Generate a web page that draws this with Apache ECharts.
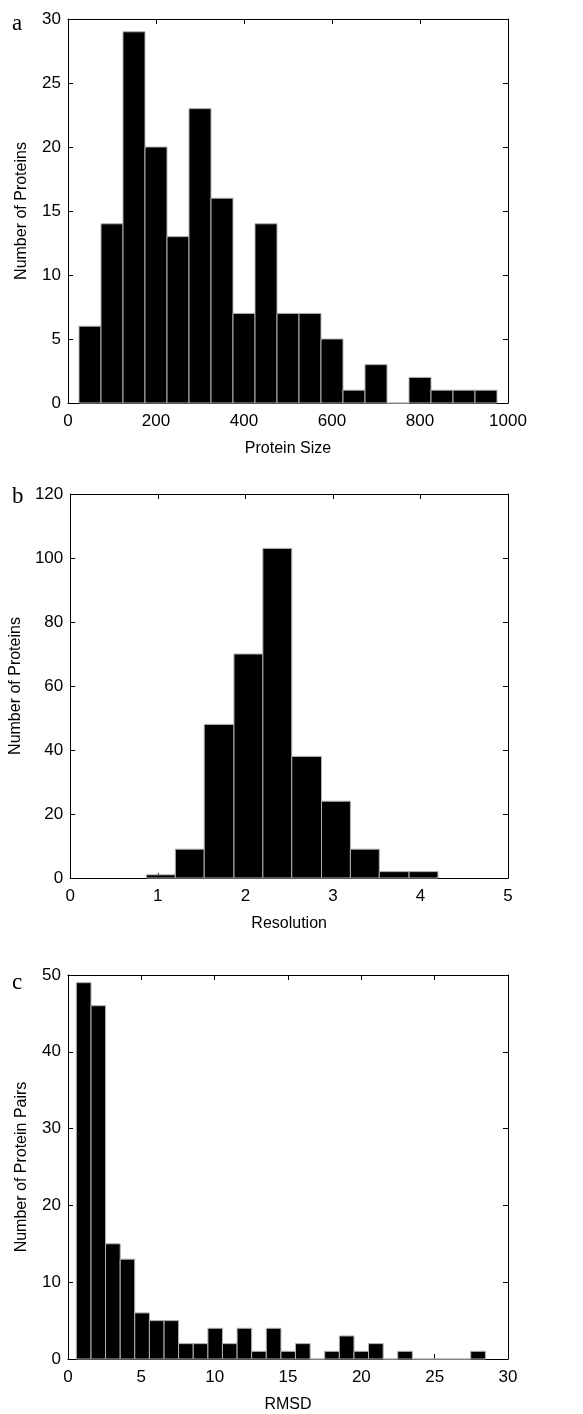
<!DOCTYPE html>
<html>
	<head>
		<meta charset="UTF-8">
		<title>histograms</title>
		<script src="https://cdn.jsdelivr.net/npm/echarts@6/dist/echarts.min.js"></script>
		<style>
			html, body {
				margin: 0;
				padding: 0;
				background: #fff;
			}
			#chart {
				width: 583px;
				height: 1414px;
			}
		</style>
	</head>
	<body>
		<div id="chart"></div>
		<script>
			// a: protein size
			var sizeEdges = [25, 75, 125, 175, 225, 275, 325, 375, 425, 475, 525, 575, 625, 675, 725, 775, 825, 875, 925, 975];
			var sizeCounts = [6, 14, 29, 20, 13, 23, 16, 7, 14, 7, 7, 5, 1, 3, 0, 2, 1, 1, 1];
			// b: resolution
			var resEdges = [0.87, 1.2, 1.53, 1.87, 2.2, 2.53, 2.87, 3.2, 3.53, 3.87, 4.2];
			var resCounts = [1, 9, 48, 70, 103, 38, 24, 9, 2, 2];
			// c: rmsd
			var rmsdEdges = [0.57, 1.57, 2.56, 3.56, 4.55, 5.55, 6.55, 7.54, 8.54, 9.54, 10.53, 11.53, 12.52, 13.52, 14.52,
				15.51, 16.51, 17.5, 18.5, 19.5, 20.49, 21.49, 22.48, 23.48, 24.48, 25.47, 26.47, 27.46, 28.46];
			var rmsdCounts = [49, 46, 15, 13, 6, 5, 5, 2, 2, 4, 2, 4, 1, 4, 1, 2, 0, 1, 3, 1, 2, 0, 1, 0, 0, 0, 0, 1];

			var panelLabels = ['a', 'b', 'c'];
			var xNames = ['Protein Size', 'Resolution', 'RMSD'];
			var yNames = ['Number of Proteins', 'Number of Proteins', 'Number of Protein Pairs'];
			var xMax = [1000, 5, 30];
			var xStep = [200, 1, 5];
			var yMax = [30, 120, 50];
			var yStep = [5, 20, 10];

			var tickFont = "'Liberation Sans Narrow', 'Liberation Sans', Arial, sans-serif";
			var tops = [19, 494, 975];
			var plotH = 384;

			function bins(edges, counts) {
				var out = [];
				for (var i = 0; i < counts.length; i++) {
					out.push([edges[i], edges[i + 1], counts[i]]);
				}
				return out;
			}

			var binData = [bins(sizeEdges, sizeCounts), bins(resEdges, resCounts), bins(rmsdEdges, rmsdCounts)];

			function renderBar(params, api) {
				var p0 = api.coord([api.value(0), api.value(2)]);
				var p1 = api.coord([api.value(1), 0]);
				return {
					type: 'rect',
					shape: { x: p0[0], y: p0[1], width: p1[0] - p0[0], height: p1[1] - p0[1] },
					style: { fill: '#000', stroke: '#b0b0b0', lineWidth: 1 }
				};
			}

			function plain(v) {
				return String(v);
			}

			var grid = [], xAxis = [], yAxis = [], series = [], graphic = [];
			for (var k = 0; k < 3; k++) {
				grid.push({ left: 68, width: 440, top: tops[k], height: plotH });
				var lineStyle = { color: '#000', width: 1 };
				xAxis.push({
					type: 'value', gridIndex: k, position: 'bottom',
					min: 0, max: xMax[k], interval: xStep[k],
					name: xNames[k], nameLocation: 'middle', nameGap: 38,
					nameTextStyle: { fontFamily: tickFont, fontSize: 16, color: '#000' },
					axisLine: { show: true, onZero: false, lineStyle: lineStyle },
					axisTick: { show: true, inside: true, length: 5, lineStyle: lineStyle },
					axisLabel: { fontFamily: tickFont, fontSize: 17, color: '#000', margin: 10, formatter: plain },
					splitLine: { show: false }
				});
				xAxis.push({
					type: 'value', gridIndex: k, position: 'top',
					min: 0, max: xMax[k], interval: xStep[k],
					axisLine: { show: true, onZero: false, lineStyle: lineStyle },
					axisTick: { show: true, inside: true, length: 5, lineStyle: lineStyle },
					axisLabel: { show: false },
					splitLine: { show: false }
				});
				yAxis.push({
					type: 'value', gridIndex: k, position: 'left',
					min: 0, max: yMax[k], interval: yStep[k],
					name: yNames[k], nameLocation: 'middle', nameGap: 38,
					nameTextStyle: { fontFamily: tickFont, fontSize: 16, color: '#000' },
					axisLine: { show: true, onZero: false, lineStyle: lineStyle },
					axisTick: { show: true, inside: true, length: 5, lineStyle: lineStyle },
					axisLabel: { fontFamily: tickFont, fontSize: 17, color: '#000', margin: 7, formatter: plain },
					splitLine: { show: false }
				});
				yAxis.push({
					type: 'value', gridIndex: k, position: 'right',
					min: 0, max: yMax[k], interval: yStep[k],
					axisLine: { show: true, onZero: false, lineStyle: lineStyle },
					axisTick: { show: true, inside: true, length: 5, lineStyle: lineStyle },
					axisLabel: { show: false },
					splitLine: { show: false }
				});
				series.push({
					type: 'custom',
					xAxisIndex: k * 2,
					yAxisIndex: k * 2,
					renderItem: renderBar,
					encode: { x: [0, 1], y: 2 },
					data: binData[k],
					silent: true
				});
			}

			var labelY = [30, 503, 989];
			for (var j = 0; j < 3; j++) {
				graphic.push({
					type: 'text', left: 12, top: labelY[j] - 18,
					style: { text: panelLabels[j], font: '23px "Liberation Serif", "Times New Roman", serif', fill: '#000' }
				});
			}

			var chart = echarts.init(document.getElementById('chart'), null, { renderer: 'canvas' });
			chart.setOption({
				animation: false,
				backgroundColor: '#fff',
				grid: grid,
				xAxis: xAxis,
				yAxis: yAxis,
				series: series,
				graphic: graphic
			});
		</script>
	</body>
</html>
